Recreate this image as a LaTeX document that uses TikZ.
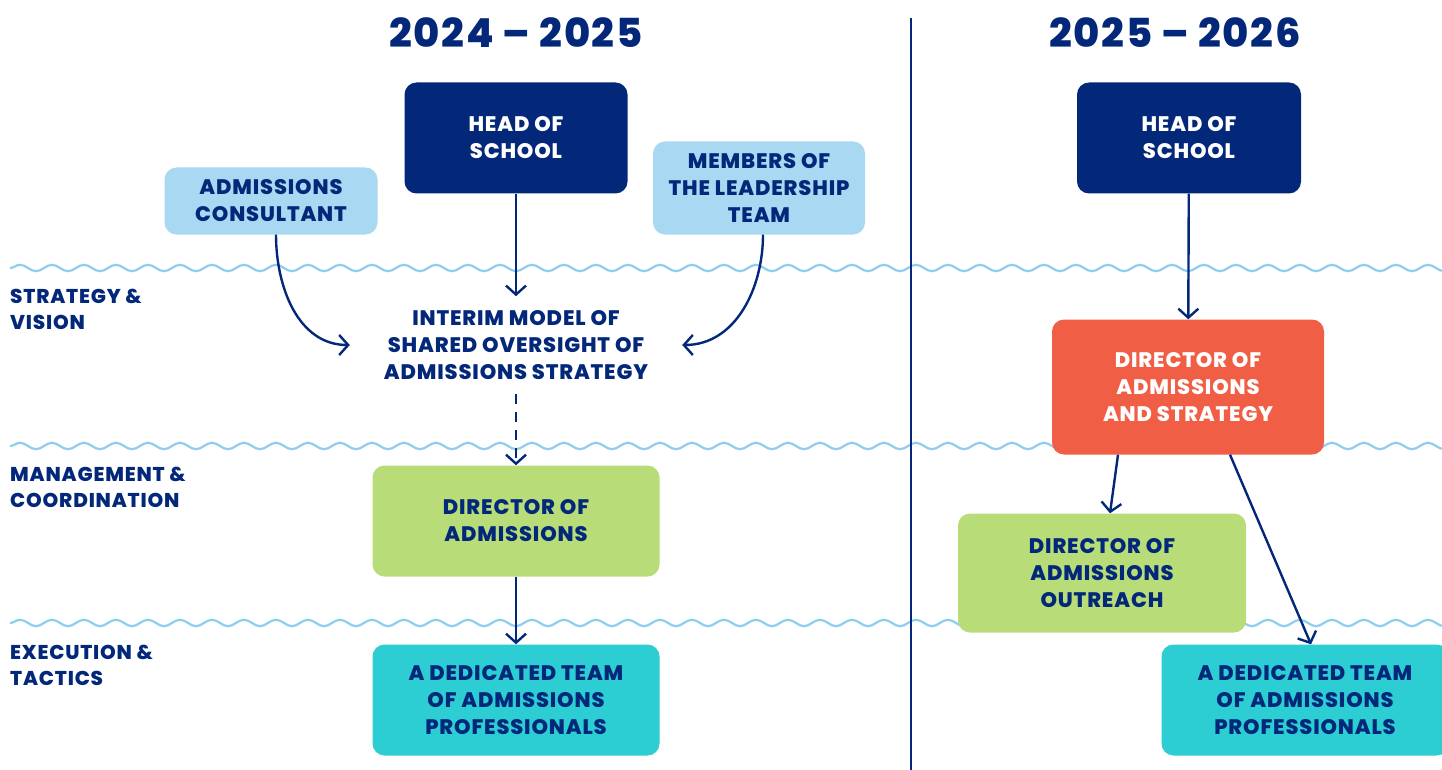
\documentclass[tikz,border=0pt]{standalone}
\usepackage{fontspec}
\setmainfont{Poppins}[BoldFont={Poppins ExtraBold},LetterSpace=4]
\usetikzlibrary{arrows.meta,decorations.pathmorphing}
\definecolor{navy}{HTML}{03287A}
\definecolor{skyblue}{HTML}{A8D8F2}
\definecolor{leaf}{HTML}{B8DD78}
\definecolor{coral}{HTML}{F05E45}
\definecolor{teal}{HTML}{2CCDD3}
\definecolor{wave}{HTML}{8FCDF0}
\begin{document}
\begin{tikzpicture}[x=1pt,y=-1pt,
    every node/.style={font=\bfseries\fontsize{21}{27}\selectfont,text=navy,align=center},
    box/.style={rounded corners=12pt,minimum width=#1},
    arr/.style={draw=navy,line width=2.4pt,-{Straight Barb[length=9pt,width=20pt,line width=2.4pt]}},
    wavy/.style={draw=wave,line width=2.2pt,decorate,decoration={snake,segment length=32pt,amplitude=3.2pt}},
    year/.style={font=\bfseries\fontsize{40}{42}\selectfont},
    level/.style={anchor=west,align=left,inner xsep=0pt,font=\bfseries\fontsize{20}{26}\selectfont}]
      \useasboundingbox (0,0) rectangle (1442,770);
      \draw[wavy] (10,268) -- (1460,268);
      \draw[wavy] (10,446) -- (1460,446);
      \draw[wavy] (10,623) -- (1460,623);
      \draw[navy,line width=2.4pt] (911,18) -- (911,770);
      \node[year](y1) at (516,33) {2024 -- 2025};
      \node[year](y2) at (1175,33) {2025 -- 2026};
      \node[level](lv1) at (10,309) {STRATEGY \&\\VISION};
      \node[level](lv2) at (10,487) {MANAGEMENT \&\\COORDINATION};
      \node[level](lv3) at (10,665) {EXECUTION \&\\TACTICS};
      \node[box=223pt,minimum height=111pt,fill=navy,text=white](head1) at (516,138) {HEAD OF\\SCHOOL};
      \node[box=213pt,minimum height=67pt,fill=skyblue](cons) at (271,201) {ADMISSIONS\\CONSULTANT};
      \node[box=212pt,minimum height=93pt,fill=skyblue](lead) at (759,188) {MEMBERS OF\\THE LEADERSHIP\\TEAM};
      \node[inner xsep=34pt,inner ysep=14pt](interim) at (516,345) {INTERIM MODEL OF\\SHARED OVERSIGHT OF\\ADMISSIONS STRATEGY};
      \node[box=287pt,minimum height=111pt,fill=leaf](dir1) at (516,521) {DIRECTOR OF\\ADMISSIONS};
      \node[box=287pt,minimum height=111pt,fill=teal](team1) at (516,700) {A DEDICATED TEAM\\OF ADMISSIONS\\PROFESSIONALS};
      \node[box=224pt,minimum height=111pt,fill=navy,text=white](head2) at (1189,138) {HEAD OF\\SCHOOL};
      \node[box=272pt,minimum height=135pt,fill=coral,text=white](das) at (1188,387) {DIRECTOR OF\\ADMISSIONS\\AND STRATEGY};
      \node[box=288pt,minimum height=119pt,fill=leaf](outr) at (1102,573) {DIRECTOR OF\\ADMISSIONS\\OUTREACH};
      \node[box=287pt,minimum height=111pt,fill=teal](team2) at (1305,700) {A DEDICATED TEAM\\OF ADMISSIONS\\PROFESSIONALS};
      \draw[arr] (head1) -- (interim);
      \draw[arr] ([xshift=5pt]cons.south) to[out=-90,in=180] (interim.west);
      \draw[arr] ([xshift=4pt]lead.south) to[out=-90,in=0] (interim.east);
      \draw[arr,dashed,dash pattern=on 10pt off 8pt] (interim) -- (dir1);
      \draw[arr] (dir1) -- (team1);
      \draw[arr] (head2) -- (das);
      \draw[arr] ([xshift=-70pt]das.south) -- ([xshift=8pt]outr.north);
      \draw[arr] ([xshift=42pt]das.south) -- ([xshift=6pt]team2.north);
    \end{tikzpicture}
\end{document}
